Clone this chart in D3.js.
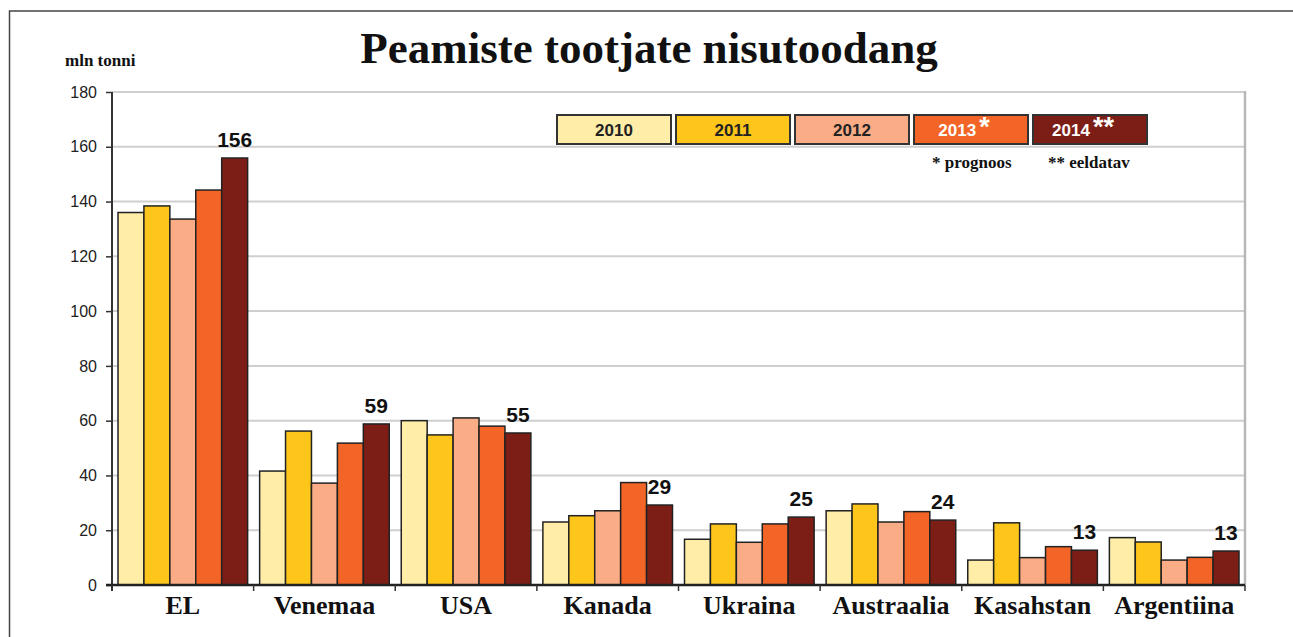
<!DOCTYPE html>
<html>
<head>
<meta charset="utf-8">
<script src="https://cdn.jsdelivr.net/npm/d3@7.9.0/dist/d3.min.js"></script>
<style>
  body { margin: 0; background: #fff; }
  svg { display: block; }
</style>
</head>
<body>
<div id="chart"></div>
<script>
const countries = ['EL', 'Venemaa', 'USA', 'Kanada', 'Ukraina', 'Austraalia', 'Kasahstan', 'Argentiina'];
const years = ['2010', '2011', '2012', '2013', '2014'];
const yearMarks = ['', '', '', '*', '**'];
const colors = ['#ffeda8', '#fec61a', '#f9ac86', '#f26526', '#7d1e16'];

const v2010 = [136, 41.6, 60, 23, 16.7, 27.1, 9.1, 17.3];
const v2011 = [138.4, 56.2, 54.8, 25.3, 22.3, 29.6, 22.7, 15.7];
const v2012 = [133.6, 37.2, 61, 27.1, 15.6, 23, 10, 9.1];
const v2013 = [144.2, 51.8, 58, 37.4, 22.3, 26.8, 14, 10.1];
const v2014 = [155.9, 58.8, 55.5, 29.2, 24.8, 23.7, 12.7, 12.4];
const labels2014 = ['156', '59', '55', '29', '25', '24', '13', '13'];

const yTicks = [0, 20, 40, 60, 80, 100, 120, 140, 160, 180];

const series = [v2010, v2011, v2012, v2013, v2014];

const width = 1293, height = 637;
const usable = { left: 112, right: 1245, top: 92, bottom: 585 };

const svg = d3.select('#chart').append('svg')
  .attr('width', width).attr('height', height);

// outer frame
svg.append('rect')
  .attr('x', 9.5).attr('y', 11).attr('width', 1300).attr('height', 700)
  .attr('fill', 'none').attr('stroke', '#444').attr('stroke-width', 1.5);

const x0 = d3.scaleBand().domain(countries).range([usable.left, usable.right]).padding(0);
const x1 = d3.scaleBand().domain(years).range([6, x0.bandwidth() - 6]).padding(0);
const y = d3.scaleLinear().domain([0, 180]).range([usable.bottom, usable.top]);

// gridlines
svg.append('g')
  .selectAll('line')
  .data(yTicks.filter(d => d > 0))
  .join('line')
  .attr('x1', usable.left).attr('x2', usable.right)
  .attr('y1', d => y(d)).attr('y2', d => y(d))
  .attr('stroke', '#cfcfcf').attr('stroke-width', 2);

// plot area right border
svg.append('line')
  .attr('x1', usable.right).attr('x2', usable.right)
  .attr('y1', usable.top - 1).attr('y2', usable.bottom)
  .attr('stroke', '#b8b8b8').attr('stroke-width', 2.5);

// bars
const groups = svg.append('g')
  .selectAll('g')
  .data(countries)
  .join('g')
  .attr('transform', d => `translate(${x0(d)},0)`);

groups.selectAll('rect')
  .data((c, i) => years.map((yr, k) => ({ yr, k, value: series[k][i] })))
  .join('rect')
  .attr('x', d => x1(d.yr))
  .attr('y', d => y(d.value))
  .attr('width', x1.bandwidth())
  .attr('height', d => y(0) - y(d.value))
  .attr('fill', d => colors[d.k])
  .attr('stroke', '#222')
  .attr('stroke-width', 1.5);

// value labels on 2014 bars
groups.append('text')
  .attr('x', x1('2014') + x1.bandwidth() / 2)
  .attr('y', (c, i) => y(v2014[i]) - 11)
  .attr('text-anchor', 'middle')
  .attr('font-family', 'Liberation Sans, Arial, sans-serif')
  .attr('font-weight', 'bold')
  .attr('font-size', 21)
  .attr('fill', '#111')
  .text((c, i) => labels2014[i]);

// y axis
const yAxis = svg.append('g')
  .attr('transform', `translate(${usable.left},0)`)
  .call(d3.axisLeft(y).tickValues(yTicks).tickSize(6).tickPadding(9));
yAxis.select('.domain').attr('stroke', '#333').attr('stroke-width', 2)
  .attr('d', `M0,${usable.top}V${usable.bottom + 6}`);
yAxis.selectAll('.tick line').attr('stroke', '#333').attr('stroke-width', 1.5);
yAxis.selectAll('.tick text')
  .attr('font-family', 'Liberation Sans, Arial, sans-serif')
  .attr('font-size', 16).attr('fill', '#222');

// x axis
const xAxis = svg.append('g')
  .attr('transform', `translate(0,${usable.bottom})`)
  .call(d3.axisBottom(x0).tickSize(0).tickPadding(11));
xAxis.select('.domain').attr('stroke', '#222').attr('stroke-width', 2.5)
  .attr('d', `M${usable.left - 6},0H${usable.right}`);
xAxis.selectAll('.tick text')
  .attr('font-family', 'Liberation Serif, Times New Roman, serif')
  .attr('font-weight', 'bold')
  .attr('font-size', 26).attr('fill', '#111')
  .attr('dy', '0.71em');

svg.append('g')
  .selectAll('line')
  .data(countries.concat(['end']))
  .join('line')
  .attr('x1', (d, i) => usable.left + i * x0.bandwidth())
  .attr('x2', (d, i) => usable.left + i * x0.bandwidth())
  .attr('y1', usable.bottom).attr('y2', usable.bottom + 6)
  .attr('stroke', '#333').attr('stroke-width', 1.5);

// title
svg.append('text')
  .attr('x', 649).attr('y', 63)
  .attr('text-anchor', 'middle')
  .attr('font-family', 'Liberation Serif, Times New Roman, serif')
  .attr('font-weight', 'bold')
  .attr('font-size', 45)
  .attr('fill', '#111')
  .text('Peamiste tootjate nisutoodang');

svg.append('text')
  .attr('x', 65).attr('y', 66)
  .attr('font-family', 'Liberation Serif, Times New Roman, serif')
  .attr('font-weight', 'bold')
  .attr('font-size', 17)
  .attr('fill', '#111')
  .text('mln tonni');

// legend
const legend = svg.append('g').attr('transform', 'translate(557,115)');
const item = legend.selectAll('g')
  .data(years)
  .join('g')
  .attr('transform', (d, i) => `translate(${i * 119},0)`);
item.append('rect')
  .attr('width', 114).attr('height', 29)
  .attr('fill', (d, i) => colors[i])
  .attr('stroke', '#333').attr('stroke-width', 2);
const lt = item.append('text')
  .attr('x', (d, i) => i >= 3 ? 50 : 57).attr('y', 21)
  .attr('text-anchor', 'middle')
  .attr('font-family', 'Liberation Sans, Arial, sans-serif')
  .attr('font-weight', 'bold')
  .attr('font-size', 17)
  .attr('fill', (d, i) => i >= 3 ? '#fff' : '#222');
lt.append('tspan').text(d => d);
lt.append('tspan')
  .attr('font-size', 27).attr('dx', 3).attr('dy', 0)
  .text((d, i) => yearMarks[i]);

svg.append('text')
  .attr('x', 932).attr('y', 168)
  .attr('font-family', 'Liberation Serif, Times New Roman, serif')
  .attr('font-weight', 'bold').attr('font-size', 17).attr('fill', '#111')
  .text('* prognoos');
svg.append('text')
  .attr('x', 1048).attr('y', 168)
  .attr('font-family', 'Liberation Serif, Times New Roman, serif')
  .attr('font-weight', 'bold').attr('font-size', 17).attr('fill', '#111')
  .text('** eeldatav');
</script>
</body>
</html>
